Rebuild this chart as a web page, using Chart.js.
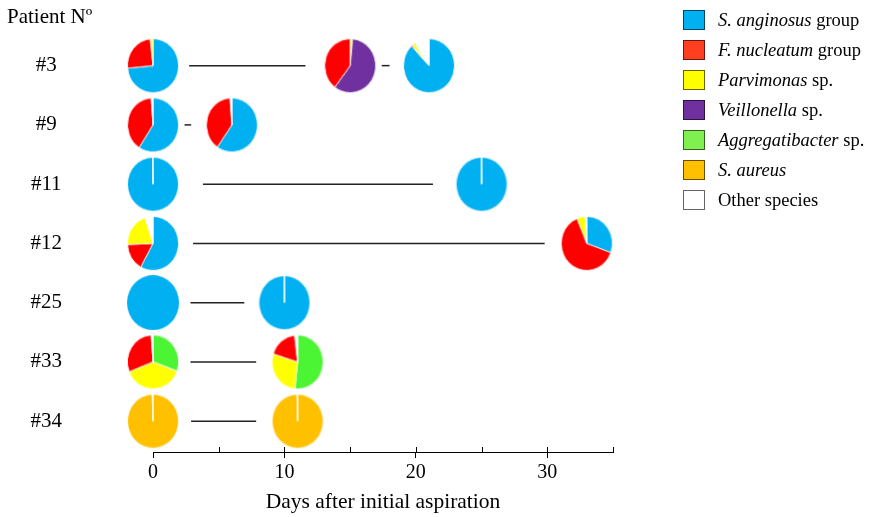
<!DOCTYPE html>
<html>
<head>
    <style>
        body, html {
            margin: 0;
            padding: 0;
            background: #fff;
        }
        #wrap {
            position: relative;
            width: 872px;
            height: 517px;
            font-family: "Liberation Serif", "Times New Roman", serif;
            color: #000;
        }
        #chart { position: absolute; left: 0; top: 0; }
        #heading { position: absolute; left: 7px; top: 6px; font-size: 21px; line-height: 1; }
        #legend { position: absolute; left: 683px; top: 0; }
        .item { position: absolute; left: 0; white-space: nowrap; font-size: 18.5px; line-height: 20px; }
        .box { position: absolute; left: 0; top: 0; width: 22px; height: 20px; box-sizing: border-box; border: 1.5px solid rgba(0,0,0,0.6); }
        .lab { position: absolute; left: 35px; top: 0; }
        #pieStore { position: absolute; left: -2000px; top: 0; }
    </style>
    <script src="https://cdn.jsdelivr.net/npm/chart.js"></script>
</head>
<body>
<div id="wrap">
    <canvas id="chart" width="872" height="517"></canvas>
    <div id="heading">Patient Nº</div>
    <div id="legend"></div>
</div>
<div id="pieStore"></div>

<script>
    // species (legend order)
    const speciesName = ['S. anginosus', 'F. nucleatum', 'Parvimonas', 'Veillonella', 'Aggregatibacter', 'S. aureus', 'Other species'];
    const speciesSuffix = [' group', ' group', ' sp.', ' sp.', ' sp.', '', ''];
    const speciesItalic = [true, true, true, true, true, true, false];
    const pieColors = ['#00b0f0', '#ff0000', '#ffff00', '#7030a0', '#4cf534', '#ffc000', '#ffffff'];
    const legendColors = ['#00b0f0', '#ff4020', '#ffff00', '#7030a0', '#80f050', '#ffc000', '#ffffff'];

    // patients (rows)
    const patients = ['#3', '#9', '#11', '#12', '#25', '#33', '#34'];

    // samples: row, day, slices (clockwise from top)
    const sampleRow = [0, 0, 0, 1, 1, 2, 2, 3, 3, 4, 4, 5, 5, 6, 6];
    const sampleDay = [0, 15, 21, 0, 6, 0, 25, 0, 33, 0, 10, 0, 11, 0, 11];
    const sampleSpecies = [
        [0, 1, 2], [2, 3, 1], [0, 1, 2, 4, 6],
        [0, 1, 6], [0, 1, 6],
        [0, 6], [0, 6],
        [0, 1, 2, 6], [0, 1, 2, 6],
        [0], [0, 6],
        [4, 2, 1, 6], [4, 2, 1, 6],
        [5, 6], [5, 6]
    ];
    const samplePercent = [
        [73.5, 24.8, 1.7], [1.5, 58.8, 39.7], [88, 0.7, 1.7, 0.8, 8.8],
        [59.2, 39.7, 1.1], [59.7, 39.2, 1.1],
        [99.7, 0.3], [99.8, 0.2],
        [58, 16.4, 20.6, 5], [30.5, 63.3, 5.2, 1],
        [100], [99.8, 0.2],
        [30.5, 38.6, 29.8, 1.1], [51.6, 28.2, 18.4, 1.8],
        [99.5, 0.5], [99.6, 0.4]
    ];

    // connecting lines between samples (days)
    const linkRow = [0, 0, 1, 2, 3, 4, 5, 6];
    const linkStart = [2.75, 17.4, 2.4, 3.8, 3.05, 2.85, 2.85, 2.9];
    const linkEnd = [11.6, 18.0, 2.9, 21.3, 29.8, 6.95, 7.85, 7.85];

    // axis ticks
    const xTicks = [0, 10, 20, 30];
    const minorTicks = [5, 10, 15, 20, 25, 30, 35];

    // legend
    const legendEl = document.getElementById('legend');
    speciesName.forEach((name, i) => {
        const item = document.createElement('div');
        item.className = 'item';
        item.style.top = (10 + 30 * i) + 'px';
        const box = document.createElement('div');
        box.className = 'box';
        box.style.background = legendColors[i];
        const lab = document.createElement('div');
        lab.className = 'lab';
        const n = document.createElement(speciesItalic[i] ? 'i' : 'span');
        n.textContent = name;
        lab.appendChild(n);
        lab.appendChild(document.createTextNode(speciesSuffix[i]));
        item.appendChild(box);
        item.appendChild(lab);
        legendEl.appendChild(item);
    });

    // each sample is drawn as a small pie chart, used as the point's image
    const store = document.getElementById('pieStore');
    function makePie(i) {
        const c = document.createElement('canvas');
        c.width = 60; c.height = 60;
        store.appendChild(c);
        const pie = new Chart(c, {
            type: 'pie',
            data: {
                labels: sampleSpecies[i].map(s => speciesName[s]),
                datasets: [{
                    data: samplePercent[i],
                    backgroundColor: sampleSpecies[i].map(s => pieColors[s]),
                    borderColor: '#ffffff',
                    borderWidth: samplePercent[i].length > 1 ? 1 : 0
                }]
            },
            options: {
                responsive: false,
                animation: false,
                devicePixelRatio: 1,
                events: [],
                plugins: { legend: { display: false }, tooltip: { enabled: false } }
            }
        });
        pie.update();
        const out = document.createElement('canvas');
        out.width = 52; out.height = 55;
        out.getContext('2d').drawImage(c, 0, 0, 60, 60, 0, 0, 52, 55);
        return out;
    }
    const pies = sampleDay.map((d, i) => makePie(i));

    const minorTickPlugin = {
        id: 'minorTicks',
        afterDraw(chart) {
            const xs = chart.scales.x;
            const c = chart.ctx;
            const y = chart.chartArea.bottom;
            c.save();
            c.strokeStyle = '#000';
            c.lineWidth = 1;
            c.beginPath();
            minorTicks.forEach(v => {
                const px = Math.round(xs.getPixelForValue(v)) + 0.5;
                c.moveTo(px, y);
                c.lineTo(px, y - 5);
            });
            c.stroke();
            c.restore();
        }
    };

    const datasets = linkRow.map((r, i) => ({
        data: [{ x: linkStart[i], y: r }, { x: linkEnd[i], y: r }],
        showLine: true,
        borderColor: '#222',
        borderWidth: 1.5,
        pointRadius: 0,
        clip: false
    }));
    datasets.push({
        data: sampleDay.map((d, i) => ({ x: d, y: sampleRow[i] })),
        pointStyle: ctx => pies[ctx.dataIndex],
        pointRadius: 1,
        showLine: false,
        clip: false
    });

    new Chart(document.getElementById('chart'), {
        type: 'scatter',
        data: { datasets },
        options: {
            responsive: false,
            animation: false,
            devicePixelRatio: 1,
            events: [],
            layout: { autoPadding: false, padding: { top: 36, right: 259, bottom: 0, left: 0 } },
            plugins: { legend: { display: false }, tooltip: { enabled: false } },
            scales: {
                x: {
                    type: 'linear',
                    min: 0,
                    max: 35,
                    afterBuildTicks: s => { s.ticks = xTicks.map(v => ({ value: v })); },
                    afterFit: s => { s.height = 65; s.paddingLeft = 0; s.paddingRight = 0; },
                    border: { color: '#000', width: 1 },
                    grid: { drawOnChartArea: false, drawTicks: true, tickLength: 6, color: '#000', lineWidth: 1 },
                    ticks: { color: '#000', padding: 3, maxRotation: 0, font: { family: 'Liberation Serif', size: 20 } },
                    title: {
                        display: true,
                        text: 'Days after initial aspiration',
                        color: '#000',
                        font: { family: 'Liberation Serif', size: 21.5 },
                        padding: { top: 0, bottom: 2 }
                    }
                },
                y: {
                    type: 'linear',
                    reverse: true,
                    min: -0.5,
                    max: 6.52,
                    afterBuildTicks: s => { s.ticks = patients.map((p, i) => ({ value: i })); },
                    afterFit: s => { s.width = 153; s.paddingTop = 0; s.paddingBottom = 0; },
                    border: { display: false },
                    grid: { display: false, drawTicks: false },
                    ticks: {
                        color: '#000',
                        padding: 91,
                        crossAlign: 'center',
                        font: { family: 'Liberation Serif', size: 21 },
                        callback: v => patients[v]
                    }
                }
            }
        },
        plugins: [minorTickPlugin]
    });
</script>
</body>
</html>
